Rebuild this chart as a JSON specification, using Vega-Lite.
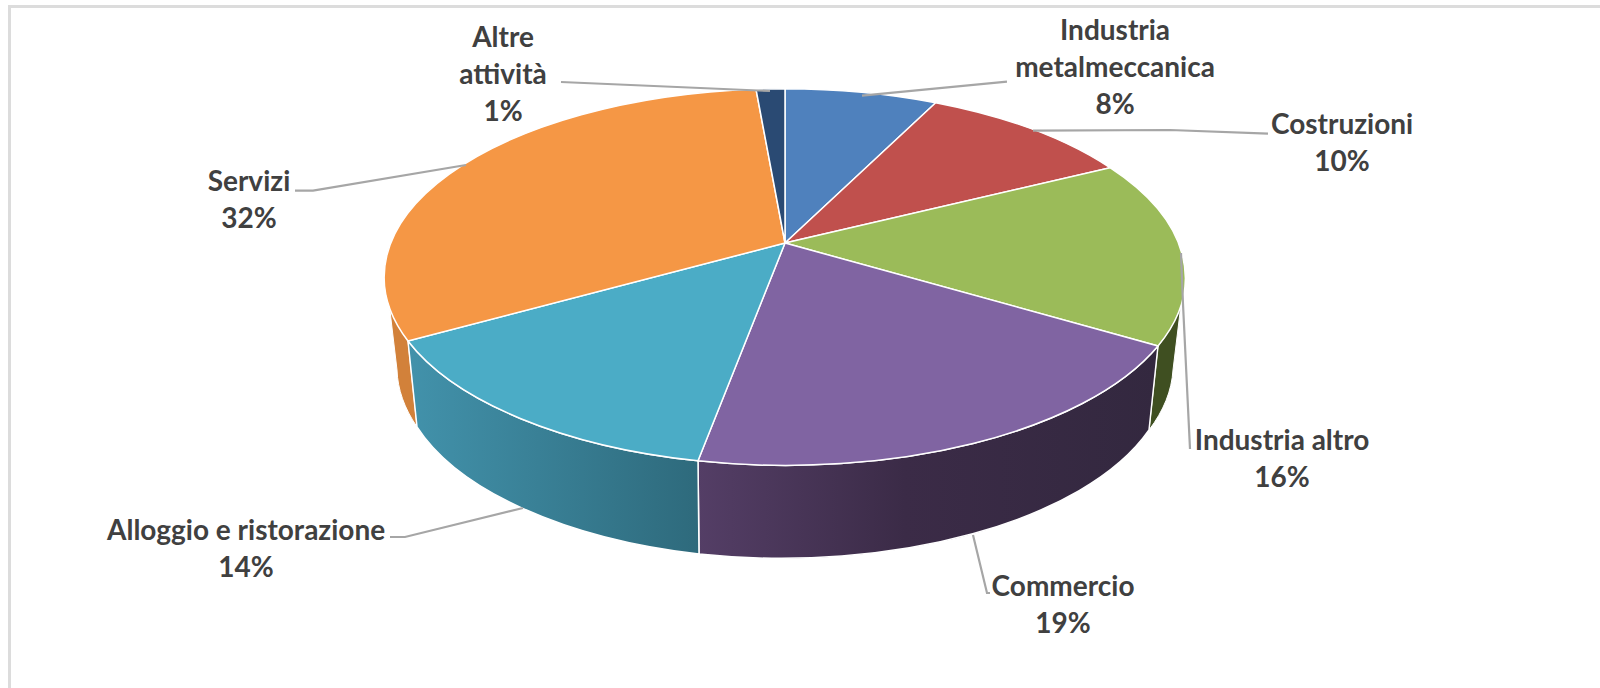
{"$schema":"https://vega.github.io/schema/vega-lite/v6.json","width":1600,"height":688,"padding":0,"autosize":"none","background":"white","view":{"stroke":null},"config":{"view":{"stroke":null}},"data":{"values":[
{"category":"Industria metalmeccanica","share":8,"label":"Industria\nmetalmeccanica\n8%","labelX":69.69,"labelY":4.7},
{"category":"Costruzioni","share":10,"label":"Costruzioni\n10%","labelX":83.88,"labelY":18.3},
{"category":"Industria altro","share":16,"label":"Industria altro\n16%","labelX":80.13,"labelY":64.2},
{"category":"Commercio","share":19,"label":"Commercio\n19%","labelX":66.44,"labelY":85.45},
{"category":"Alloggio e ristorazione","share":14,"label":"Alloggio e ristorazione\n14%","labelX":15.38,"labelY":77.3},
{"category":"Servizi","share":32,"label":"Servizi\n32%","labelX":15.56,"labelY":26.65},
{"category":"Altre attività","share":1,"label":"Altre\nattività\n1%","labelX":31.44,"labelY":5.6}
]},
"layer":[
{"data":{"values":[{"part":"frame"}]},"mark":{"type":"point","filled":false,"size":4,"opacity":1,"stroke":"#dcdcdc","strokeWidth":3,"shape":"M-790.5,344 L-790.5,-337.5 L800,-337.5"}},
{"transform":[{"filter":"datum.category==='Industria altro'"}],"mark":{"type":"point","filled":true,"size":4,"opacity":1,"fill":"#3f4f21","stroke":"white","strokeWidth":1,"shape":"M358,2 A400,188.3 0 0 0 382,-48 L373,26 A388,188.5 0 0 1 349,86 Z"}},
{"transform":[{"filter":"datum.category==='Servizi'"}],"mark":{"type":"point","filled":true,"size":4,"opacity":1,"fill":"#d2813a","stroke":"white","strokeWidth":1,"shape":"M-392,-3 A400,188.3 0 0 1 -412,-50 L-403,26 A388,188.5 0 0 0 -383,82.8 Z"}},
{"transform":[{"filter":"datum.category==='Commercio'"}],"mark":{"type":"point","filled":true,"size":4,"opacity":1,"stroke":"white","strokeWidth":1.5,"fill":{"gradient":"linear","x1":0,"y1":0,"x2":1,"y2":0,"stops":[{"offset":0,"color":"#543e66"},{"offset":0.45,"color":"#3b2b47"},{"offset":1,"color":"#33283f"}]},"shape":"M-102,116.8 A400,188.3 0 0 0 358,2 L349,86 A388,188.5 0 0 1 -101,210 Z"}},
{"transform":[{"filter":"datum.category==='Alloggio e ristorazione'"}],"mark":{"type":"point","filled":true,"size":4,"opacity":1,"stroke":"white","strokeWidth":1.5,"fill":{"gradient":"linear","x1":0,"y1":0,"x2":1,"y2":0,"stops":[{"offset":0,"color":"#4292ab"},{"offset":1,"color":"#2e6a7c"}]},"shape":"M-392,-3 A400,188.3 0 0 0 -102,116.8 L-101,210 A388,188.5 0 0 1 -383,82.8 Z"}},
{"mark":{"type":"point","filled":true,"size":4,"opacity":1,"stroke":"white","strokeWidth":1.5},"encoding":{
"fill":{"field":"category","type":"nominal","legend":null,"scale":{"domain":["Industria metalmeccanica","Costruzioni","Industria altro","Commercio","Alloggio e ristorazione","Servizi","Altre attività"],"range":["#4f81bd","#c0504d","#9bbb59","#8064a2","#4bacc6","#f59745","#2a4a73"]}},
"shape":{"field":"category","type":"nominal","legend":null,"scale":{"domain":["Industria metalmeccanica","Costruzioni","Industria altro","Commercio","Alloggio e ristorazione","Servizi","Altre attività"],"range":[
"M-15,-101 L-15,-255.3 A400,188.3 0 0 1 135.7,-241.3 Z",
"M-15,-101 L135.7,-241.3 A400,188.3 0 0 1 310,-176.3 Z",
"M-15,-101 L310,-176.3 A400,188.3 0 0 1 358,2 Z",
"M-15,-101 L358,2 A400,188.3 0 0 1 -102,116.8 Z",
"M-15,-101 L-102,116.8 A400,188.3 0 0 1 -392,-3 Z",
"M-15,-101 L-392,-3 A400,188.3 0 0 1 -44,-254.8 Z",
"M-15,-101 L-44,-254.8 A400,188.3 0 0 1 -15,-255.3 Z"]}}}},
{"mark":{"type":"point","filled":false,"size":4,"opacity":1,"stroke":"#a6a6a6","strokeWidth":2.2},"encoding":{
"shape":{"field":"category","type":"nominal","legend":null,"scale":{"domain":["Industria metalmeccanica","Costruzioni","Industria altro","Commercio","Alloggio e ristorazione","Servizi","Altre attività"],"range":[
"M62,-248.3 L207,-262.4",
"M233,-213.4 L370,-214 L468,-210.3",
"M381,-91 L383,-40 L390,105",
"M173,191 L187,249 L190,249",
"M-277,164 L-395,193 L-410,193",
"M-505,-153.3 L-487,-153.3 L-334,-179",
"M-239,-262 L-30,-253"]}}}},
{"mark":{"type":"text","font":"Lato","fontWeight":"bold","fontSize":28,"fill":"#404040","lineBreak":"\n","lineHeight":37,"align":"center","baseline":"middle"},"encoding":{
"x":{"field":"labelX","type":"quantitative","axis":null,"scale":{"domain":[0,100],"nice":false,"zero":false}},
"y":{"field":"labelY","type":"quantitative","axis":null,"scale":{"domain":[0,100],"nice":false,"zero":false,"reverse":true}},
"text":{"field":"label","type":"nominal"}}}
],
"resolve":{"scale":{"shape":"independent","fill":"independent"}}}
